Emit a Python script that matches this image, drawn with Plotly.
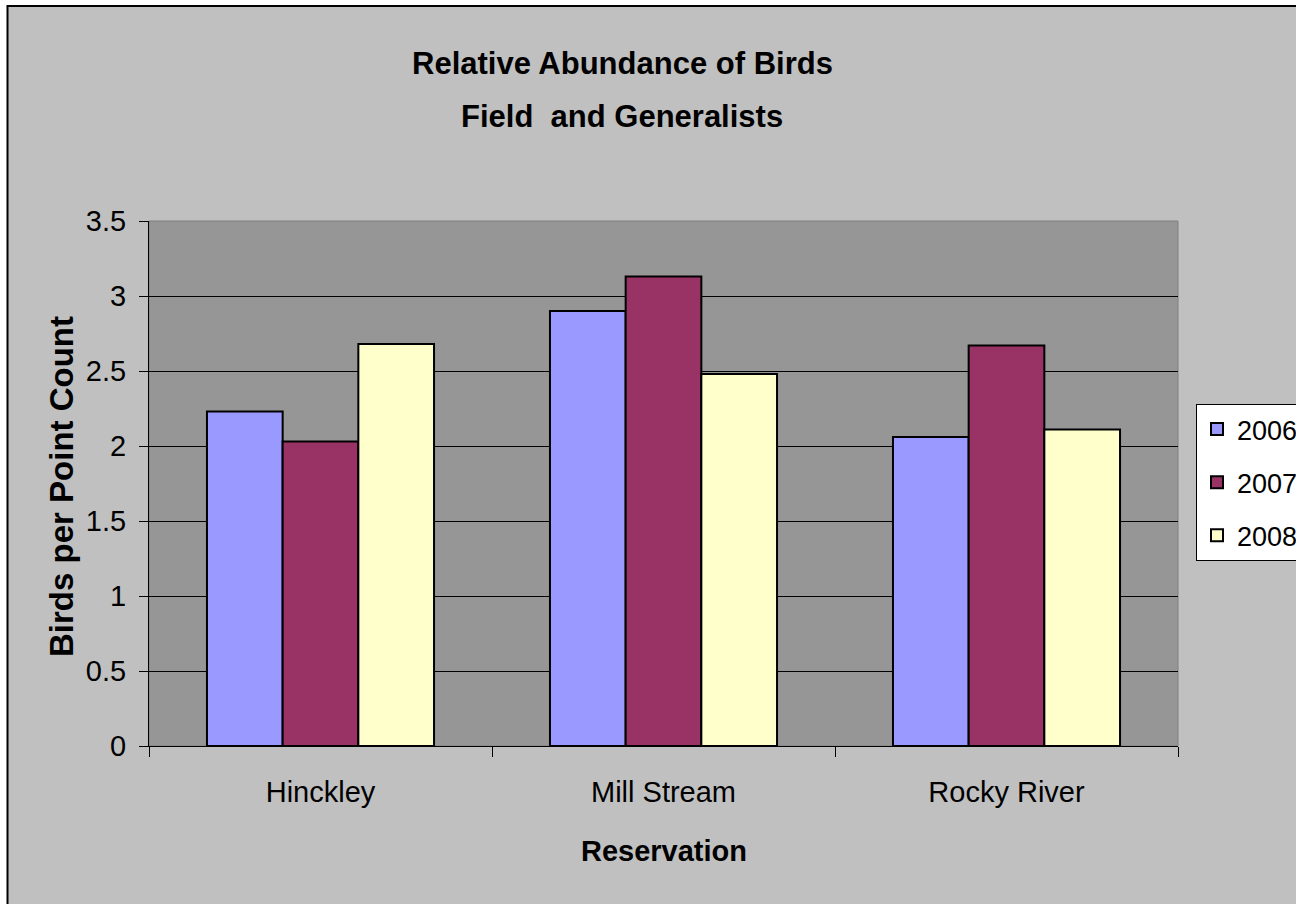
import plotly.graph_objects as go

# Reservations and yearly relative abundance (birds per point count)
reservations = ["Hinckley", "Mill Stream", "Rocky River"]
years = ["2006", "2007", "2008"]
abund_2006 = [2.23, 2.90, 2.06]
abund_2007 = [2.03, 3.13, 2.67]
abund_2008 = [2.68, 2.48, 2.11]
year_colors = ["#9999FF", "#993366", "#FFFFCC"]
y_ticks = [0, 0.5, 1, 1.5, 2, 2.5, 3, 3.5]

W, H = 1296, 904
L, R, T, B = 149, 1178, 221, 746  # plot-area pixel edges
pw, ph = R - L, B - T


def px_x(p):
    return (p - L) / pw


def px_y(p):
    return (B - p) / ph


FONT = "Liberation Sans, Arial, sans-serif"

fig = go.Figure()
for yr, vals, col in zip(years, [abund_2006, abund_2007, abund_2008], year_colors):
    fig.add_trace(go.Bar(
        x=reservations, y=vals, name=yr, legendgroup=yr,
        marker=dict(color=col, line=dict(color="black", width=2)),
    ))

shapes = [
    # chart area with its frame
    dict(type="rect", xref="paper", yref="paper", layer="below",
         x0=px_x(7.5), x1=px_x(1330), y0=px_y(940), y1=px_y(6),
         fillcolor="#C0C0C0", line=dict(color="black", width=2)),
    # plot area
    dict(type="rect", xref="paper", yref="paper", layer="below",
         x0=0, x1=1, y0=0, y1=1,
         fillcolor="#969696", line=dict(color="#808080", width=1)),
]

annotations = [
    dict(text="<b>Relative Abundance of Birds</b>", xref="paper", yref="paper",
         x=px_x(622), y=px_y(63), xanchor="center", yanchor="middle",
         showarrow=False, font=dict(family=FONT, size=31, color="black")),
    dict(text="<b>Field  and Generalists</b>", xref="paper", yref="paper",
         x=px_x(622), y=px_y(116), xanchor="center", yanchor="middle",
         showarrow=False, font=dict(family=FONT, size=31, color="black")),
    dict(text="<b>Reservation</b>", xref="paper", yref="paper",
         x=px_x(664), y=px_y(851), xanchor="center", yanchor="middle",
         showarrow=False, font=dict(family=FONT, size=29, color="black")),
    dict(text="<b>Birds per Point Count</b>", xref="paper", yref="paper",
         x=px_x(62), y=px_y(487), xanchor="center", yanchor="middle",
         textangle=-90, showarrow=False,
         font=dict(family=FONT, size=33, color="black")),
]

fig.update_layout(
    width=W, height=H,
    margin=dict(l=L, r=W - R, t=T, b=H - B, pad=0, autoexpand=False),
    paper_bgcolor="white",
    plot_bgcolor="rgba(0,0,0,0)",
    barmode="group", bargap=0.338, bargroupgap=0,
    font=dict(family=FONT, size=29, color="black"),
    shapes=shapes,
    annotations=annotations,
    showlegend=True,
    legend=dict(
        x=px_x(1196), y=px_y(404), xanchor="left", yanchor="top",
        bgcolor="white", bordercolor="black", borderwidth=1,
        font=dict(family=FONT, size=27, color="black"),
        tracegroupgap=15, traceorder="grouped",
    ),
    xaxis=dict(
        showline=True, linecolor="black", linewidth=1,
        ticks="outside", tickson="boundaries", ticklen=10,
        tickcolor="black", showgrid=False, ticklabelstandoff=20,
        tickfont=dict(family=FONT, size=29, color="black"),
    ),
    yaxis=dict(
        range=[0, 3.5], tickvals=y_ticks,
        showline=True, linecolor="black", linewidth=1,
        ticks="outside", ticklen=9, tickcolor="black",
        showgrid=True, gridcolor="black", gridwidth=1,
        zeroline=False, ticklabelstandoff=7,
        tickfont=dict(family=FONT, size=29, color="black"),
    ),
)

fig.write_html("out.html")
